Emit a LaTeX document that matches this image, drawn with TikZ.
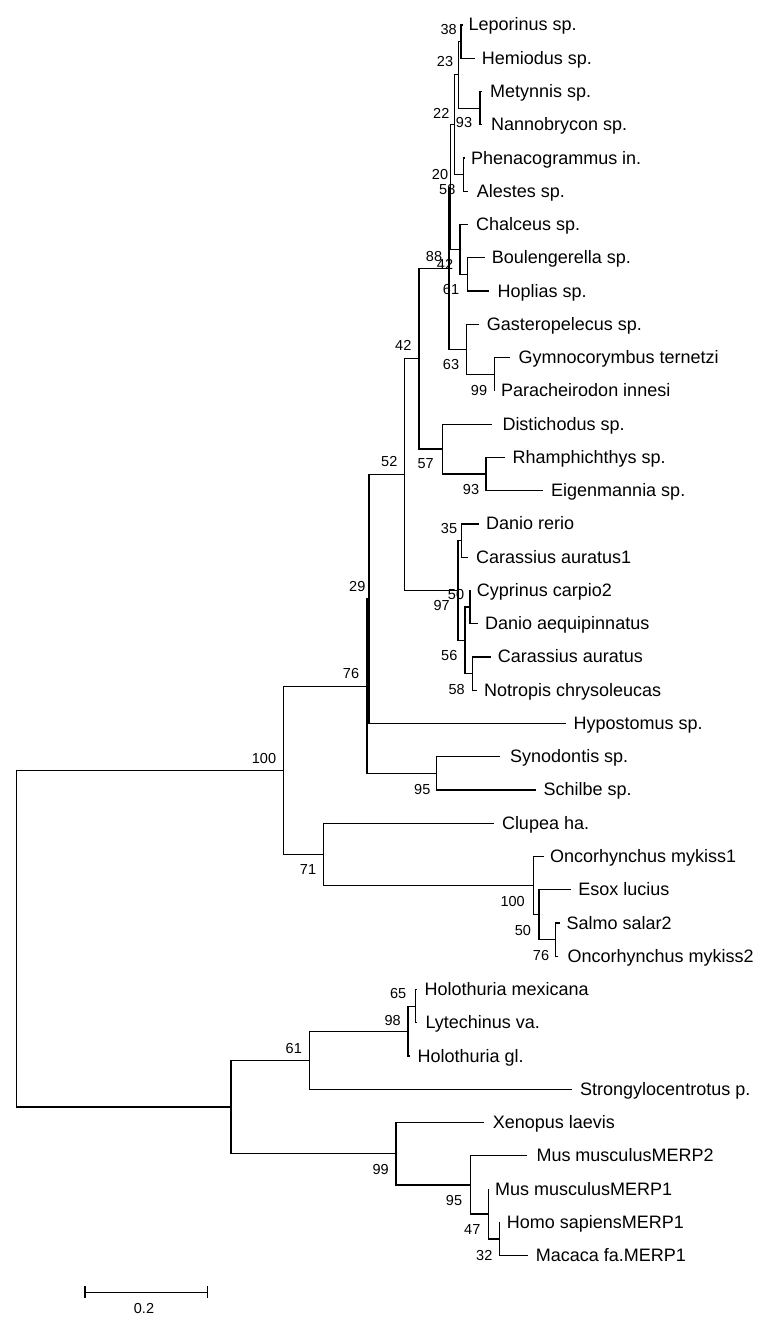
\documentclass[tikz,border=0pt]{standalone}
\usepackage{fontspec}
\setmainfont{Liberation Sans}
\begin{document}
\begin{tikzpicture}[x=1pt,y=-1pt,
  br/.style={line width=1.2pt, line join=miter},
  leaf/.style={anchor=west, inner sep=0pt, text height=13pt, text depth=1pt, font=\fontsize{18}{20}\selectfont},
  bs/.style={inner sep=0pt, font=\fontsize{14.5}{16}\selectfont}]
\useasboundingbox (0,0) rectangle (768,1322);
% leaves: index / tip x / text x / name
\foreach \i/\tx/\lx/\nm in {
 0/462.5/468.3/Leporinus sp.,
 1/475/481.7/Hemiodus sp.,
 2/482/490/Metynnis sp.,
 3/482/491/Nannobrycon sp.,
 4/465/471/Phenacogrammus in.,
 5/468.3/476.7/Alestes sp.,
 6/468.3/476/Chalceus sp.,
 7/485/491.7/Boulengerella sp.,
 8/489/497.3/Hoplias sp.,
 9/479.3/486.7/Gasteropelecus sp.,
 10/510/518.3/Gymnocorymbus ternetzi,
 11/495/501/Paracheirodon innesi,
 12/491.7/502.3/Distichodus sp.,
 13/505/512.3/Rhamphichthys sp.,
 14/543.3/551/Eigenmannia sp.,
 15/479/486/Danio rerio,
 16/468.3/476/Carassius auratus1,
 17/471/476.7/Cyprinus carpio2,
 18/478.3/485/Danio aequipinnatus,
 19/490.7/497.7/Carassius auratus,
 20/477/484/Notropis chrysoleucas,
 21/565.7/573.3/Hypostomus sp.,
 22/500/510/Synodontis sp.,
 23/536/543.3/Schilbe sp.,
 24/493.8/501.8/Clupea ha.,
 25/543.6/549.8/Oncorhynchus mykiss1,
 26/570.9/578.2/Esox lucius,
 27/560/566.5/Salmo salar2,
 28/558/567.3/Oncorhynchus mykiss2,
 29/417/424.3/Holothuria mexicana,
 30/417/425.4/Lytechinus va.,
 31/409.8/417.4/Holothuria gl.,
 32/571.6/580/Strongylocentrotus p.,
 33/483.6/492.7/Xenopus laevis,
 34/527.2/536.3/Mus musculusMERP2,
 35/489/495/Mus musculusMERP1,
 36/500/506.7/Homo sapiensMERP1,
 37/528.3/535.7/Macaca fa.MERP1}{
  \pgfmathsetmacro{\yy}{25+33.26*\i}
  \coordinate (t\i) at (\tx,\yy);
  \node[leaf] (l\i) at (\lx,\yy) {\nm};
}
% internal nodes
\coordinate (n38) at (461,41.63);
\coordinate (nB93) at (480,108.15);
\coordinate (n23) at (458.3,74.89);
\coordinate (n20) at (463.3,174.67);
\coordinate (n22) at (454.3,124.78);
\coordinate (nBH) at (467.3,274.45);
\coordinate (nCh) at (460,249.5);
\coordinate (n58) at (450.7,187.14);
\coordinate (nI99) at (494.3,374.23);
\coordinate (n63) at (466.7,349.29);
\coordinate (n42) at (449,268.2);
\coordinate (nL93) at (486,474.01);
\coordinate (n57) at (442.3,449.07);
\coordinate (n88) at (419,358.63);
\coordinate (n35) at (461.7,540.53);
\coordinate (nP50) at (470,607.05);
\coordinate (nQ58) at (472.7,673.57);
\coordinate (n56) at (465,640.31);
\coordinate (n97) at (458,590.42);
\coordinate (n52) at (404.5,474.53);
\coordinate (n29) at (369,598.99);
\coordinate (nV95) at (436.7,773.35);
\coordinate (n76) at (367,686.17);
\coordinate (nX76) at (555.6,939.65);
\coordinate (nY50) at (538.9,914.71);
\coordinate (nZ100) at (533.4,885.6);
\coordinate (n71) at (323.3,854.42);
\coordinate (n100) at (283.3,770.3);
\coordinate (n65) at (415.3,1006.17);
\coordinate (n98) at (408,1031.11);
\coordinate (n61) at (309.1,1060.22);
\coordinate (nAF32) at (499.3,1238.99);
\coordinate (nAG47) at (488.3,1214.05);
\coordinate (nAH95) at (470.5,1184.94);
\coordinate (nAI99) at (396,1153.76);
\coordinate (nAJ) at (230.9,1106.99);
\coordinate (root) at (16.3,938.6);
% branches
\foreach \p/\c in {n38/t0,n38/t1,nB93/t2,nB93/t3,n23/n38,n23/nB93,n20/t4,n20/t5,
  n22/n23,n22/n20,nBH/t7,nBH/t8,nCh/t6,nCh/nBH,n58/n22,n58/nCh,nI99/t10,nI99/t11,
  n63/t9,n63/nI99,n42/n58,n42/n63,nL93/t13,nL93/t14,n57/t12,n57/nL93,n88/n42,n88/n57,
  n35/t15,n35/t16,nP50/t17,nP50/t18,nQ58/t19,nQ58/t20,n56/nP50,n56/nQ58,n97/n35,n97/n56,
  n52/n88,n52/n97,n29/n52,n29/t21,nV95/t22,nV95/t23,n76/n29,n76/nV95,
  nX76/t27,nX76/t28,nY50/t26,nY50/nX76,nZ100/t25,nZ100/nY50,n71/t24,n71/nZ100,
  n100/n76,n100/n71,n65/t29,n65/t30,n98/n65,n98/t31,n61/n98,n61/t32,
  nAF32/t36,nAF32/t37,nAG47/t35,nAG47/nAF32,nAH95/t34,nAH95/nAG47,nAI99/t33,nAI99/nAH95,
  nAJ/n61,nAJ/nAI99,root/n100,root/nAJ}{
  \draw[br] (\p) |- (\c);
}
% bootstrap values
\foreach \k/\x/\y/\v in {
 1/448.7/30/38, 2/445/62/23, 3/441.3/113/22, 4/464/123/93, 5/440/175/20,
 6/447.3/190/58, 7/434/256.7/88, 8/445/264/42, 9/451/290/61, 10/403.3/345.7/42,
 11/451/364.3/63, 12/479/390.7/99, 13/389.3/461.7/52, 14/425.7/464/57, 15/471/489.3/93,
 16/449/528.3/35, 17/357.3/586.7/29, 18/456/594.5/50, 19/441.7/605.7/97, 20/449.3/656/56,
 21/351/674/76, 22/456.7/689.3/58, 23/264/758.3/100, 24/422.3/789/95, 25/308/870/71,
 26/512.7/901/100, 27/522.9/930/50, 28/541/955/76, 29/398.2/993.3/65, 30/392.7/1020/98,
 31/293.8/1048.3/61, 32/380.7/1169.3/99, 33/454/1200.7/95, 34/472.3/1229/47, 35/484.3/1255.7/32}{
  \node[bs] (b\k) at (\x,\y) {\v};
}
% scale bar
\coordinate (s1) at (85,1292.3);
\coordinate (s2) at (207.3,1292.3);
\draw[br] (s1) -- (s2);
\draw[br] (s1) ++(0,-6) -- ++(0,12);
\draw[br] (s2) ++(0,-6) -- ++(0,12);
\node[bs] (scl) at (144,1308.3) {0.2};
\end{tikzpicture}
\end{document}
